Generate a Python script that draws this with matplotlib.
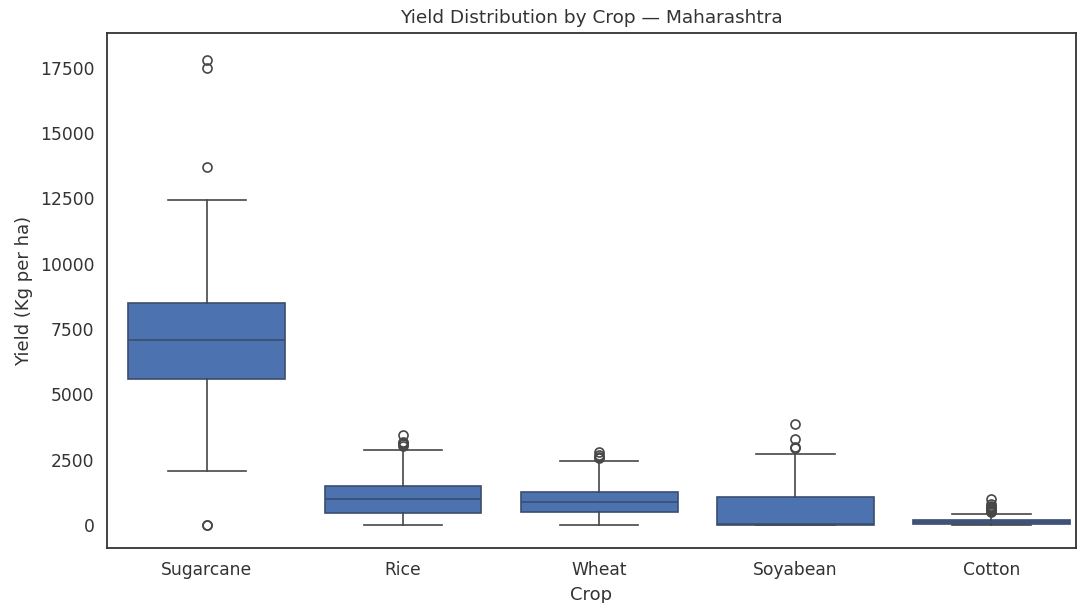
import matplotlib
matplotlib.use("Agg")
import matplotlib.pyplot as plt

crops = ["Sugarcane", "Rice", "Wheat", "Soyabean", "Cotton"]
q1 = [5600, 470, 500, 0, 30]
median = [7080, 1000, 890, 20, 120]
q3 = [8480, 1500, 1260, 1080, 200]
whisker_low = [2050, 0, 0, 0, 0]
whisker_high = [12450, 2880, 2460, 2720, 430]
outliers = [
    [0, 0, 13700, 17500, 17800],
    [3020, 3080, 3130, 3170, 3460],
    [2550, 2600, 2680, 2800],
    [2950, 3000, 3300, 3870],
    [480, 520, 560, 600, 640, 680, 720, 800, 980],
]
yticks = [0, 2500, 5000, 7500, 10000, 12500, 15000, 17500]

fill = "#4c72b0"
line = "#474747"
edge = "#3b4d70"

fig = plt.figure(figsize=(10.79, 6.03), dpi=100)
ax = fig.add_axes([0.099, 0.091, 0.898, 0.854])

stats = []
for i, c in enumerate(crops):
    stats.append(dict(label=c, q1=q1[i], med=median[i], q3=q3[i],
                      whislo=whisker_low[i], whishi=whisker_high[i],
                      fliers=outliers[i]))

ax.bxp(stats, positions=range(len(crops)), widths=0.8, patch_artist=True,
       boxprops=dict(facecolor=fill, edgecolor=edge, linewidth=1.2),
       medianprops=dict(color=edge, linewidth=1.2),
       whiskerprops=dict(color=line, linewidth=1.2),
       capprops=dict(color=line, linewidth=1.2),
       flierprops=dict(marker="o", markerfacecolor="none",
                       markeredgecolor=line, markersize=6.5, markeredgewidth=1.2),
       capwidths=0.4)

ax.set_xlim(-0.51, 4.43)
ax.set_ylim(-890, 18830)
ax.set_yticks(yticks)
ax.set_yticklabels([str(t) for t in yticks])
ax.tick_params(axis="both", labelsize=12.3, length=0, colors="#333333", pad=9)
for s in ax.spines.values():
    s.set_color("#333333")
    s.set_linewidth(1.3)

ax.set_xlabel("Crop", fontsize=13, color="#333333", labelpad=5)
ax.set_ylabel("Yield (Kg per ha)", fontsize=13, color="#333333", labelpad=5)
ax.set_title("Yield Distribution by Crop — Maharashtra", fontsize=13.3, color="#333333", pad=7)

fig.savefig("out.png", dpi=100)
